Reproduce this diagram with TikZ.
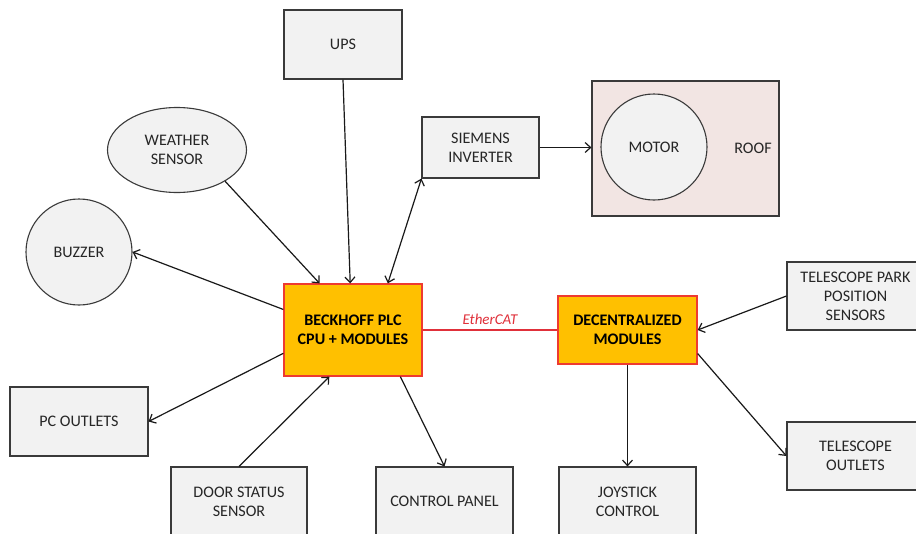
\documentclass[tikz,border=0pt]{standalone}
\usepackage{fontspec}
\setmainfont{Carlito}
\usetikzlibrary{arrows.meta,shapes.geometric,calc}
\definecolor{boxfill}{HTML}{F2F2F2}
\definecolor{boxline}{HTML}{3A3A3A}
\definecolor{plcfill}{HTML}{FFC000}
\definecolor{plcline}{HTML}{EE3A30}
\definecolor{rooffill}{HTML}{F2E5E3}
\definecolor{ethred}{HTML}{E0303A}
\definecolor{txt}{HTML}{262626}
\begin{document}
\begin{tikzpicture}[x=1pt,y=-1pt,
  base/.style={inner sep=0pt,align=center,font=\fontsize{16.1}{19}\selectfont,text=txt},
  box/.style={base,draw=boxline,fill=boxfill,line width=1.1pt},
  roundbox/.style={box,circle},
  ellbox/.style={box,ellipse},
  plc/.style={base,draw=plcline,fill=plcfill,line width=1.3pt,font=\fontsize{16.1}{19}\selectfont\bfseries,text=black},
  conn/.style={line width=1.2pt,draw=black!90,-{Straight Barb[length=5.5pt,width=10pt]}},
  biconn/.style={line width=1.2pt,draw=black!90,{Straight Barb[length=5.5pt,width=10pt]}-{Straight Barb[length=5.5pt,width=10pt]}},
  ethline/.style={line width=1.2pt,draw=ethred},
]
\useasboundingbox (0,0) rectangle (916,533);
\clip (0,0) rectangle (916,533);
\fill[white] (0,0) rectangle (916,533);

% roof and motor
\node[box,fill=rooffill,minimum width=187pt,minimum height=135pt] (roof) at (685.5,148.5) {};
\node[base] (rooflabel) at (753,148) {ROOF};
\node[roundbox,minimum size=106pt] (motor) at (654,147) {MOTOR};

% boxes
\node[box,minimum width=118pt,minimum height=69pt] (ups) at (343,44.5) {UPS};
\node[box,minimum width=117pt,minimum height=61pt] (sie) at (480.5,147.5) {SIEMENS\\INVERTER};
\node[ellbox,minimum width=139pt,minimum height=85pt] (weather) at (177,150) {WEATHER\\SENSOR};
\node[roundbox,minimum size=106pt] (buzzer) at (79,252) {BUZZER};
\node[plc,minimum width=138pt,minimum height=92pt] (beck) at (353,330) {BECKHOFF PLC\\CPU + MODULES};
\node[plc,minimum width=139pt,minimum height=68pt] (dec) at (627.5,330) {DECENTRALIZED\\MODULES};
\node[box,minimum width=138pt,minimum height=69pt] (pc) at (79,421.5) {PC OUTLETS};
\node[box,minimum width=136pt,minimum height=69pt] (door) at (239,501.5) {DOOR STATUS\\SENSOR};
\node[box,minimum width=137pt,minimum height=69pt] (ctrl) at (444.5,501.5) {CONTROL PANEL};
\node[box,minimum width=137pt,minimum height=69pt] (joy) at (627.5,501.5) {JOYSTICK\\CONTROL};
\node[box,minimum width=137pt,minimum height=68pt] (park) at (855.5,296) {TELESCOPE PARK\\POSITION\\SENSORS};
\node[box,minimum width=137pt,minimum height=68pt] (tout) at (855.5,456) {TELESCOPE\\OUTLETS};

% connectors
\draw[conn] (ups.south) -- ($(beck.north west)!0.48!(beck.north east)$);
\draw[conn] (weather.-33) -- ($(beck.north west)!0.26!(beck.north east)$);
\draw[biconn] ($(beck.north west)!0.75!(beck.north east)$) -- (sie.south west);
\draw[conn] (sie.east) -- (sie.east -| roof.west);
\draw[conn] ($(beck.north west)!0.28!(beck.south west)$) -- (buzzer.east);
\draw[conn] ($(beck.north west)!0.75!(beck.south west)$) -- (pc.east);
\draw[conn] (door.north) -- ($(beck.south west)!0.33!(beck.south east)$);
\draw[conn] ($(beck.south west)!0.84!(beck.south east)$) -- (ctrl.north);
\draw[ethline] (beck.east) -- node[midway,above=1pt,font=\fontsize{15}{18}\selectfont\itshape,text=ethred] (eth) {EtherCAT} (beck.east -| dec.west);
\draw[conn] (park.west) -- (dec.east);
\draw[conn] ($(dec.north east)!0.84!(dec.south east)$) -- (tout.west);
\draw[conn] (dec.south) -- (joy.north);
\end{tikzpicture}
\end{document}
